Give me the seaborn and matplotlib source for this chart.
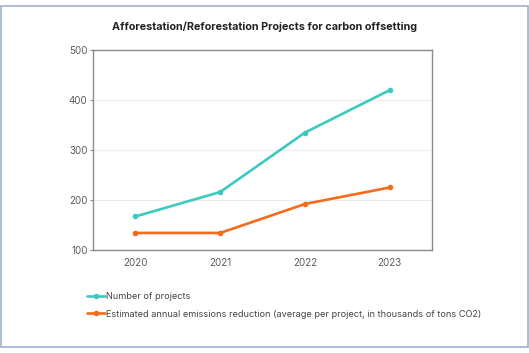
import pandas as pd
import matplotlib
matplotlib.use("Agg")
import matplotlib.pyplot as plt
import seaborn as sns
from matplotlib.patches import Rectangle

# data
years = ["2020", "2021", "2022", "2023"]
num_projects = [167, 216, 335, 420]
emissions_reduction = [134, 134, 192, 225]
series_names = [
    "Number of projects",
    "Estimated annual emissions reduction (average per project, in thousands of tons CO2)",
]

df = pd.DataFrame({
    "year": years * 2,
    "value": num_projects + emissions_reduction,
    "series": [series_names[0]] * 4 + [series_names[1]] * 4,
})

sns.set_theme(style="white")
plt.rcParams["font.family"] = ["Inter", "DejaVu Sans"]
palette = {series_names[0]: "#3cc9c1", series_names[1]: "#f56b1c"}

fig = plt.figure(figsize=(5.29, 3.53), dpi=100)
ax = fig.add_axes([0.176, 0.292, 0.641, 0.566])

sns.lineplot(
    data=df, x="year", y="value", hue="series", palette=palette,
    marker="o", markersize=4, markeredgewidth=0, linewidth=1.9, ax=ax,
)

ax.set_xlim(-0.5, 3.5)
ax.set_ylim(100, 500)
ax.set_yticks([100, 200, 300, 400, 500])
ax.set_xlabel("")
ax.set_ylabel("")
ax.yaxis.grid(True, color="#ececec", linewidth=0.8)
ax.set_axisbelow(True)
for s in ax.spines.values():
    s.set_color("#8a8a8a")
    s.set_linewidth(1.0)
ax.tick_params(axis="both", labelsize=7, colors="#8a8a8a", width=0.8)
ax.tick_params(axis="x", length=0, pad=6)
ax.tick_params(axis="y", left=True, length=2, pad=2)
for lab in ax.get_yticklabels() + ax.get_xticklabels():
    lab.set_color("#5a5a5a")

fig.text(0.5, 0.923, "Afforestation/Reforestation Projects for carbon offsetting",
         ha="center", va="center", fontsize=7.8, fontweight="bold", color="#222222")

handles, labels = ax.get_legend_handles_labels()
ax.legend_.remove()
fig.legend(handles, labels, loc="upper left", bbox_to_anchor=(0.158, 0.182),
           frameon=False, fontsize=6.6, labelcolor="#444444", handlelength=1.9,
           handletextpad=0.1, labelspacing=0.9, borderaxespad=0)

fig.patches.append(Rectangle((0.001, 0.016), 0.997, 0.968, transform=fig.transFigure,
                             fill=False, edgecolor="#9fb0c8", linewidth=1.2))

fig.savefig("out.png", dpi=100)
